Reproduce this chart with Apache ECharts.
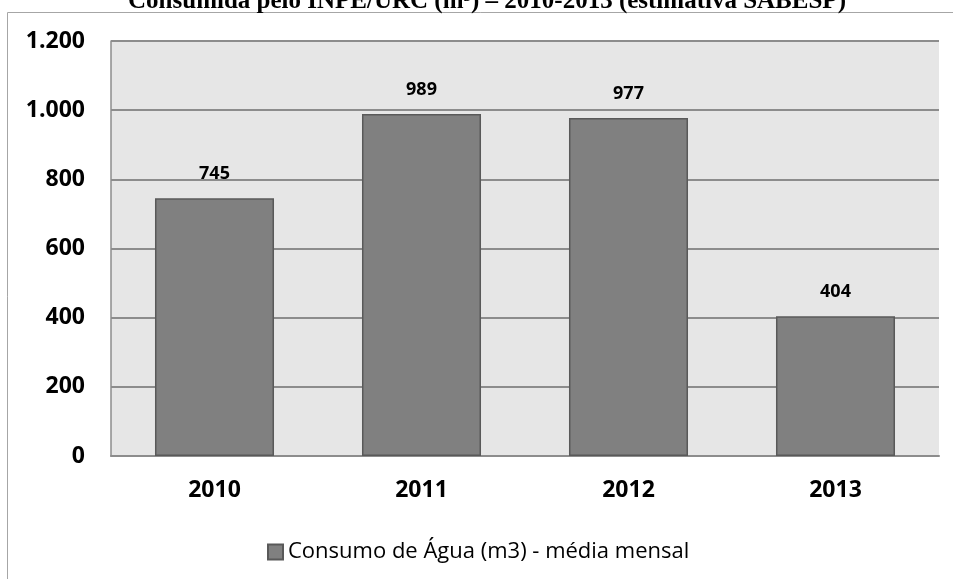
<!DOCTYPE html>
<html>
<head>
<meta charset="utf-8">
<script src="https://cdn.jsdelivr.net/npm/echarts@6/dist/echarts.min.js"></script>
<style>
html,body{margin:0;padding:0;background:#fff;}
#chart{width:953px;height:579px;}
</style>
</head>
<body>
<div id="chart"></div>
<script>
'use strict';

// dados do gráfico
var anos = ['2010', '2011', '2012', '2013'];
var consumo = [745, 989, 977, 404];
var nomeSerie = 'Consumo de Água (m3) - média mensal';
var titulo = 'Consumida pelo INPE/URC (m³) – 2010-2013 (estimativa SABESP)';

var fonte = '"Open Sans", "Noto Sans", sans-serif';

var myChart = echarts.init(document.getElementById('chart'));

var option = {
    animation: false,
    backgroundColor: '#fff',
    graphic: [
        {
            // moldura externa
            type: 'rect',
            silent: true,
            shape: { x: 7.5, y: 12.5, width: 1000, height: 700 },
            style: { fill: 'none', stroke: '#a6a6a6', lineWidth: 1 }
        },
        {
            type: 'text',
            silent: true,
            x: 487,
            y: 14,
            style: {
                text: titulo,
                font: 'bold 25px "Liberation Serif", "Times New Roman", serif',
                fill: '#000',
                align: 'center',
                verticalAlign: 'bottom'
            }
        }
    ],
    grid: {
        left: 111,
        right: 14,
        top: 41,
        bottom: 123,
        show: true,
        backgroundColor: '#e6e6e6',
        borderWidth: 0
    },
    legend: {
        left: 262,
        top: 536,
        itemWidth: 15,
        itemHeight: 15,
        icon: 'rect',
        textStyle: { fontFamily: fonte, fontSize: 22, color: '#000' },
        data: [nomeSerie]
    },
    xAxis: {
        type: 'category',
        data: anos,
        axisLine: { show: true, lineStyle: { color: '#8c8c8c', width: 2 } },
        axisTick: { show: false },
        axisLabel: {
            margin: 23,
            fontFamily: fonte,
            fontSize: 23,
            fontWeight: 'bold',
            color: '#000'
        },
        splitLine: { show: false }
    },
    yAxis: {
        type: 'value',
        min: 0,
        max: 1200,
        interval: 200,
        axisLine: { show: true, lineStyle: { color: '#8c8c8c', width: 1.5 } },
        axisTick: { show: false },
        axisLabel: {
            margin: 26,
            fontFamily: fonte,
            fontSize: 23,
            fontWeight: 'bold',
            color: '#000',
            formatter: function (v) {
                return String(v).replace(/\B(?=(\d{3})+(?!\d))/g, '.');
            }
        },
        splitLine: { show: true, lineStyle: { color: '#8c8c8c', width: 2 } }
    },
    series: [
        {
            name: nomeSerie,
            type: 'bar',
            data: consumo,
            barWidth: '57.5%',
            itemStyle: {
                color: '#808080',
                borderColor: '#595959',
                borderWidth: 1.5
            },
            label: {
                show: true,
                position: 'top',
                distance: 15,
                fontFamily: fonte,
                fontSize: 18,
                fontWeight: 'bold',
                color: '#000'
            }
        }
    ]
};

myChart.setOption(option);
</script>
</body>
</html>
